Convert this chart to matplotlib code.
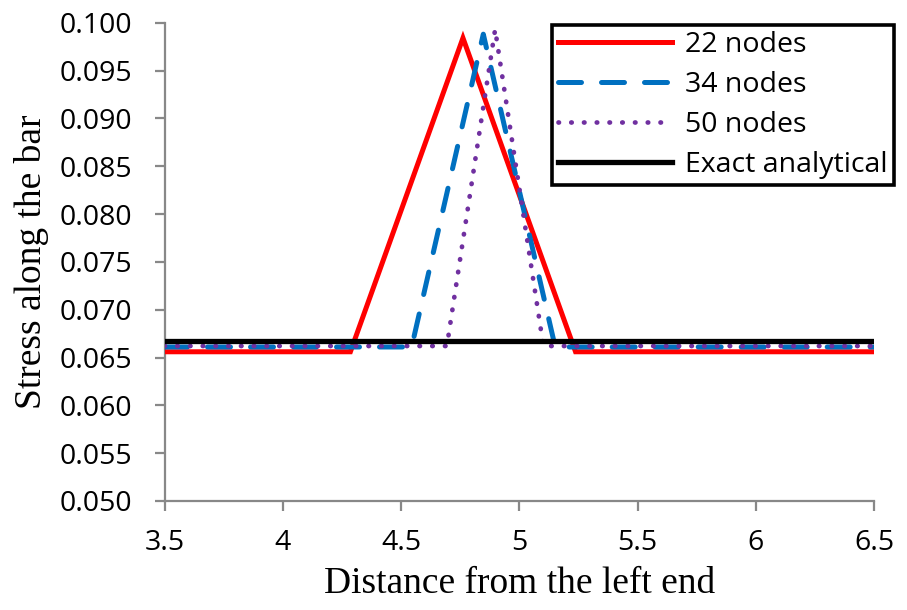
import matplotlib
matplotlib.use("Agg")
import matplotlib.pyplot as plt

# Data
x22 = [3.5, 4.286, 4.762, 5.238, 6.5]
y22 = [0.0656, 0.0656, 0.0984, 0.0656, 0.0656]
x34 = [3.5, 4.545, 4.848, 5.152, 6.5]
y34 = [0.0661, 0.0661, 0.0988, 0.0661, 0.0661]
x50 = [3.5, 4.694, 4.898, 5.102, 6.5]
y50 = [0.0662, 0.0662, 0.0993, 0.0662, 0.0662]
x_exact = [3.5, 6.5]
y_exact = [0.0667, 0.0667]
xticks = [3.5, 4, 4.5, 5, 5.5, 6, 6.5]
xtick_labels = ["3.5", "4", "4.5", "5", "5.5", "6", "6.5"]
yticks = [0.050, 0.055, 0.060, 0.065, 0.070, 0.075, 0.080, 0.085, 0.090, 0.095, 0.100]

W, H = 907, 610
fig = plt.figure(figsize=(W/100, H/100), dpi=100)
ax = fig.add_axes([164.5/W, 1-501/H, (874-164.5)/W, (501-22.7)/H])

tickfont = "Open Sans"
ax.plot(x22, y22, color="#FF0000", lw=3.6, label="22 nodes", solid_joinstyle="miter", zorder=3)
ax.plot(x34, y34, color="#0070C0", lw=3.6, dashes=(4.6, 4.0), dash_capstyle="round",
        label="34 nodes", zorder=4)
ax.plot(x50, y50, color="#7030A0", lw=3.4, dashes=(0.1, 2.6), dash_capstyle="round",
        label="50 nodes", zorder=5)
ax.plot(x_exact, y_exact, color="black", lw=3.8, label="Exact analytical", zorder=6)

ax.set_xlim(3.5, 6.5)
ax.set_ylim(0.050, 0.100)
ax.set_xticks(xticks)
ax.set_xticklabels(xtick_labels, fontsize=20.5, family=tickfont)
ax.set_yticks(yticks)
ax.set_yticklabels([f"{v:.3f}" for v in yticks], fontsize=20.5, family=tickfont)

for s in ["top", "right"]:
    ax.spines[s].set_visible(False)
for s in ["left", "bottom"]:
    ax.spines[s].set_color("#888888")
    ax.spines[s].set_linewidth(1.6)
ax.tick_params(axis="both", direction="out", length=7, width=1.6, color="#888888")
ax.tick_params(axis="x", pad=13)
ax.tick_params(axis="y", pad=16)

ax.set_xlabel("Distance from the left end", fontsize=27, family="Liberation Serif", labelpad=7)
ax.set_ylabel("Stress along the bar", fontsize=27, family="Liberation Serif", labelpad=8)

leg = ax.legend(loc="upper right", bbox_to_anchor=(1.028, 0.996),
                prop={"family": tickfont, "size": 20.5},
                frameon=True, fancybox=False, edgecolor="black", handlelength=4.0,
                handletextpad=0.45, borderpad=0.22, labelspacing=0.42, borderaxespad=0.0)
leg.get_frame().set_linewidth(2.6)
leg.get_frame().set_alpha(1)

fig.savefig("out.png", dpi=100)
